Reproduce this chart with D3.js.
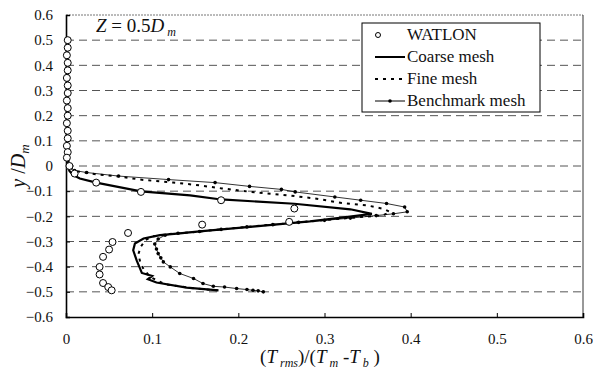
<!DOCTYPE html>
<html>
<head>
<meta charset="utf-8">
<script src="https://cdn.jsdelivr.net/npm/d3@7"></script>
<style>
  body { margin: 0; background: #fff; }
  .grid line { stroke: #555; stroke-dasharray: 8,5; stroke-width: 1; }
</style>
</head>
<body>
<svg id="chart" width="593" height="374"></svg>
<script>
// tick values
const xTicks = [0, 0.1, 0.2, 0.3, 0.4, 0.5, 0.6]
const yTicks = [-0.6, -0.5, -0.4, -0.3, -0.2, -0.1, 0, 0.1, 0.2, 0.3, 0.4, 0.5, 0.6]

// WATLON measurements [x, y]
const watlon = [
  [0.002, 0.5], [0.002, 0.47], [0.001, 0.44], [0.002, 0.41], [0.002, 0.38], [0.001, 0.35],
  [0.002, 0.32], [0.002, 0.29], [0.001, 0.26], [0.002, 0.23], [0.002, 0.2], [0.001, 0.17],
  [0.002, 0.14], [0.002, 0.11], [0.001, 0.08], [0.002, 0.055], [0.001, 0.033], [0.004, 0.0],
  [0.010, -0.03], [0.035, -0.066], [0.087, -0.103], [0.180, -0.136], [0.265, -0.169],
  [0.259, -0.222], [0.158, -0.233], [0.072, -0.266], [0.054, -0.302], [0.050, -0.332],
  [0.043, -0.361], [0.039, -0.401], [0.039, -0.431], [0.043, -0.465], [0.049, -0.481], [0.053, -0.494]
]

// Coarse mesh
const coarse = [
  [0.001, 0.5], [0.001, 0.3], [0.001, 0.1], [0.002, 0.0], [0.004, -0.02], [0.008, -0.035],
  [0.016, -0.05], [0.035, -0.066], [0.087, -0.101], [0.144, -0.117], [0.18, -0.133], [0.265, -0.15],
  [0.33, -0.172], [0.355, -0.19], [0.32, -0.205], [0.283, -0.22], [0.22, -0.24], [0.155, -0.26],
  [0.132, -0.268], [0.109, -0.275], [0.09, -0.288], [0.08, -0.308], [0.078, -0.335], [0.082, -0.375],
  [0.086, -0.408], [0.088, -0.425], [0.1, -0.437], [0.095, -0.45], [0.105, -0.463], [0.14, -0.483],
  [0.177, -0.494]
]

// Fine mesh
const fine = [
  [0.002, 0.5], [0.002, 0.3], [0.002, 0.1], [0.003, 0.0], [0.01, -0.02], [0.037, -0.034],
  [0.063, -0.042], [0.086, -0.054], [0.124, -0.066], [0.148, -0.074], [0.181, -0.089],
  [0.215, -0.103], [0.256, -0.116], [0.289, -0.129], [0.32, -0.147], [0.349, -0.156],
  [0.368, -0.17], [0.376, -0.182], [0.368, -0.196], [0.34, -0.203], [0.3, -0.215], [0.25, -0.23],
  [0.2, -0.245], [0.15, -0.262], [0.12, -0.27], [0.1, -0.28], [0.092, -0.295], [0.087, -0.32],
  [0.084, -0.35], [0.086, -0.38], [0.09, -0.41], [0.095, -0.43], [0.1, -0.445], [0.115, -0.47],
  [0.15, -0.487], [0.18, -0.495]
]

// Benchmark mesh
const bench = [
  [0.002, 0.5], [0.002, 0.47], [0.002, 0.44], [0.002, 0.41], [0.002, 0.38], [0.002, 0.35],
  [0.002, 0.32], [0.002, 0.29], [0.002, 0.26], [0.002, 0.23], [0.002, 0.2], [0.002, 0.17],
  [0.002, 0.14], [0.002, 0.11], [0.002, 0.08], [0.002, 0.05], [0.002, 0.02], [0.003, 0.0],
  [0.010, -0.018], [0.024, -0.026], [0.061, -0.04], [0.119, -0.054], [0.173, -0.066],
  [0.213, -0.081], [0.25, -0.093], [0.266, -0.103], [0.312, -0.123], [0.342, -0.136],
  [0.372, -0.149], [0.393, -0.163], [0.396, -0.182], [0.38, -0.19], [0.36, -0.197], [0.33, -0.207],
  [0.3, -0.216], [0.27, -0.224], [0.24, -0.233], [0.21, -0.242], [0.18, -0.252], [0.155, -0.26],
  [0.13, -0.267], [0.115, -0.275], [0.107, -0.29], [0.103, -0.31], [0.105, -0.33], [0.107, -0.348],
  [0.11, -0.365], [0.113, -0.381], [0.121, -0.401], [0.132, -0.427], [0.148, -0.447],
  [0.159, -0.467], [0.171, -0.478], [0.184, -0.481], [0.198, -0.487], [0.21, -0.491],
  [0.217, -0.494], [0.223, -0.496], [0.229, -0.5]
]

const legendItems = ['WATLON', 'Coarse mesh', 'Fine mesh', 'Benchmark mesh']

const L = 66, R = 583, T = 15, B = 317
const svg = d3.select('#chart')
const x = d3.scaleLinear().domain([0, 0.6]).range([L, R])
const y = d3.scaleLinear().domain([-0.6, 0.6]).range([B, T])
const fmt = d => d === 0 ? '0' : d3.format('.1f')(d)

// dashed grid
svg.append('g').classed('grid', true)
  .selectAll('line')
  .data(yTicks.filter(v => v > -0.6 && v < 0.6))
  .join('line')
  .attr('x1', L).attr('x2', R)
  .attr('y1', d => y(d)).attr('y2', d => y(d))

// frame top / right
svg.append('line').attr('x1', L).attr('x2', R).attr('y1', T).attr('y2', T)
  .attr('stroke', '#777').attr('stroke-width', 1).attr('stroke-dasharray', '2,1')
svg.append('line').attr('x1', R).attr('x2', R).attr('y1', T).attr('y2', B)
  .attr('stroke', '#333').attr('stroke-width', 1)

// axes
let xg = svg.append('g').attr('transform', `translate(0,${B})`)
  .call(d3.axisBottom(x).tickValues(xTicks).tickSize(-4).tickPadding(16).tickFormat(fmt))
xg.attr('font-size', 15)
xg.select('.domain').attr('stroke', '#000').attr('stroke-width', 1.6)
xg.selectAll('.tick line').attr('stroke', '#000')

let yg = svg.append('g').attr('transform', `translate(${L},0)`)
  .call(d3.axisLeft(y).tickValues(yTicks).tickSize(-4).tickPadding(13).tickFormat(fmt))
yg.attr('font-size', 15)
yg.select('.domain').attr('stroke', '#000').attr('stroke-width', 1.6)
yg.selectAll('.tick line').attr('stroke', '#000')

const line = d3.line().x(d => x(d[0])).y(d => y(d[1])).curve(d3.curveLinear)

svg.append('path').attr('d', line(fine)).attr('fill', 'none')
  .attr('stroke', '#000').attr('stroke-width', 2).attr('stroke-dasharray', '3,5')
svg.append('path').attr('d', line(bench)).attr('fill', 'none')
  .attr('stroke', '#000').attr('stroke-width', 0.8)
svg.append('g').selectAll('circle').data(bench).join('circle')
  .attr('cx', d => x(d[0])).attr('cy', d => y(d[1])).attr('r', 1.8).attr('fill', '#000')
svg.append('path').attr('d', line(coarse)).attr('fill', 'none')
  .attr('stroke', '#000').attr('stroke-width', 2.2)
svg.append('g').selectAll('circle').data(watlon).join('circle')
  .attr('cx', d => x(d[0])).attr('cy', d => y(d[1])).attr('r', 3.5)
  .attr('fill', '#fff').attr('stroke', '#000').attr('stroke-width', 1)

// annotation
let ann = svg.append('text').attr('x', 96).attr('y', 32).attr('font-size', 19)
ann.append('tspan').attr('font-style', 'italic').text('Z')
ann.append('tspan').text(' = 0.5')
ann.append('tspan').attr('font-style', 'italic').text('D')
ann.append('tspan').attr('font-style', 'italic').attr('font-size', 12).attr('dy', 4).text(' m')

// axis titles
let xt = svg.append('text').attr('x', 320).attr('y', 363).attr('text-anchor', 'middle').attr('font-size', 19)
xt.append('tspan').text('(')
xt.append('tspan').attr('font-style', 'italic').text('T')
xt.append('tspan').attr('font-style', 'italic').attr('font-size', 12).attr('dy', 4).text(' rms')
xt.append('tspan').attr('dy', -4).text(')/(')
xt.append('tspan').attr('font-style', 'italic').text('T')
xt.append('tspan').attr('font-style', 'italic').attr('font-size', 12).attr('dy', 4).text(' m')
xt.append('tspan').attr('dy', -4).text(' -')
xt.append('tspan').attr('font-style', 'italic').text('T')
xt.append('tspan').attr('font-style', 'italic').attr('font-size', 12).attr('dy', 4).text(' b')
xt.append('tspan').attr('dy', -4).text(' )')

let yt = svg.append('text').attr('transform', 'translate(25,166) rotate(-90)')
  .attr('text-anchor', 'middle').attr('font-size', 20)
yt.append('tspan').attr('font-style', 'italic').text('y')
yt.append('tspan').text(' /')
yt.append('tspan').attr('font-style', 'italic').text('D')
yt.append('tspan').attr('font-style', 'italic').attr('font-size', 13).attr('dy', 4).text('m')

// legend
let lg = svg.append('g')
lg.append('rect').attr('x', 362).attr('y', 23).attr('width', 178).attr('height', 89)
  .attr('fill', '#fff').attr('stroke', '#000').attr('stroke-width', 1)
const ly = d3.scalePoint().domain(legendItems).range([35, 101])
lg.selectAll('text').data(legendItems).join('text')
  .attr('x', 407).attr('y', d => ly(d) + 5).attr('font-size', 17).text(d => d)
lg.append('circle').attr('cx', 378).attr('cy', ly('WATLON')).attr('r', 2.5)
  .attr('fill', '#fff').attr('stroke', '#000')
lg.append('line').attr('x1', 375).attr('x2', 405).attr('y1', ly('Coarse mesh')).attr('y2', ly('Coarse mesh'))
  .attr('stroke', '#000').attr('stroke-width', 2)
lg.append('line').attr('x1', 375).attr('x2', 405).attr('y1', ly('Fine mesh')).attr('y2', ly('Fine mesh'))
  .attr('stroke', '#000').attr('stroke-width', 2).attr('stroke-dasharray', '3,5')
lg.append('line').attr('x1', 375).attr('x2', 405).attr('y1', ly('Benchmark mesh')).attr('y2', ly('Benchmark mesh'))
  .attr('stroke', '#000').attr('stroke-width', 1)
lg.append('circle').attr('cx', 390).attr('cy', ly('Benchmark mesh')).attr('r', 1.8).attr('fill', '#000')

// serif everywhere (inline style)
svg.selectAll('text').style('font-family', '"Liberation Serif"').style('fill', '#111')
</script>
</body>
</html>
